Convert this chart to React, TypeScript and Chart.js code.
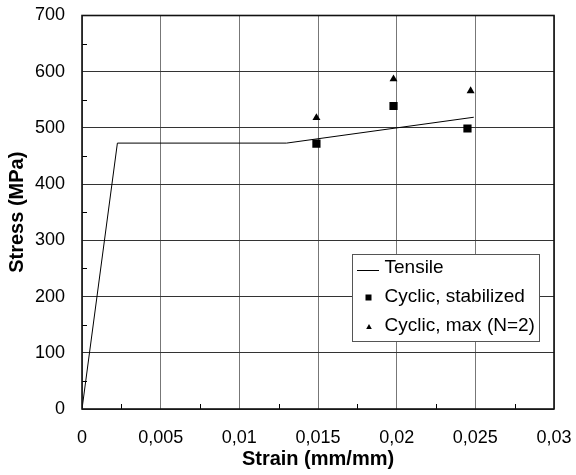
import React, { useEffect, useRef } from 'react';
import { Chart, registerables } from 'chart.js';

Chart.register(...registerables);

// ---- Data ----
const tensileStrain = [0, 0.00225, 0.013, 0.0249];
const tensileStress = [0, 473, 473, 519];
const stabilizedStrain = [0.0149, 0.0198, 0.0245];
const stabilizedStress = [472, 539, 499];
const maxStrain = [0.0149, 0.0198, 0.0247];
const maxStress = [518, 587, 566];
const seriesLabels = ['Tensile', 'Cyclic, stabilized', 'Cyclic, max (N=2)'];
const xTickLabels = ['0', '0,005', '0,01', '0,015', '0,02', '0,025', '0,03'];
const yTickLabels = ['0', '100', '200', '300', '400', '500', '600', '700'];
const xMinorTicks = [0.0025, 0.0075, 0.0125, 0.0175, 0.0225, 0.0275];
const yMinorTicks = [50, 150, 250, 350, 450, 550, 650];

const FONT = '"Liberation Sans", Arial, sans-serif';

const framePlugin = {
  id: 'frameAndLegend',
  afterDraw(chart: any) {
    const { ctx, chartArea: a, scales } = chart;
    ctx.save();
    // minor ticks
    ctx.strokeStyle = '#000';
    ctx.lineWidth = 1;
    ctx.beginPath();
    yMinorTicks.forEach((v) => {
      const y = Math.round(scales.y.getPixelForValue(v)) + 0.5;
      ctx.moveTo(a.left, y);
      ctx.lineTo(a.left + 5, y);
    });
    xMinorTicks.forEach((v) => {
      const x = Math.round(scales.x.getPixelForValue(v)) + 0.5;
      ctx.moveTo(x, a.bottom);
      ctx.lineTo(x, a.bottom - 5);
    });
    ctx.stroke();
    // frame
    ctx.lineWidth = 1.6;
    ctx.strokeStyle = '#111';
    ctx.strokeRect(a.left, a.top, a.right - a.left, a.bottom - a.top);

    // legend
    const bx = a.right - 202;
    const by = a.bottom - 155;
    const bw = 187;
    const bh = 87;
    ctx.fillStyle = '#fff';
    ctx.fillRect(bx, by, bw, bh);
    ctx.lineWidth = 1;
    ctx.strokeStyle = '#555';
    ctx.strokeRect(bx + 0.5, by + 0.5, bw, bh);

    const rows = [by + 14, by + 43, by + 72];
    const mx = bx + 16.5;
    // line sample
    ctx.strokeStyle = '#000';
    ctx.lineWidth = 1;
    ctx.beginPath();
    ctx.moveTo(bx + 5, rows[0] + 2.5);
    ctx.lineTo(bx + 27, rows[0] + 2.5);
    ctx.stroke();
    // square
    ctx.fillStyle = '#000';
    ctx.fillRect(mx - 3, rows[1] - 2.5, 6, 6);
    // triangle
    ctx.beginPath();
    ctx.moveTo(mx + 0.5, rows[2] - 2);
    ctx.lineTo(mx + 3.3, rows[2] + 3);
    ctx.lineTo(mx - 2.3, rows[2] + 3);
    ctx.closePath();
    ctx.fill();

    ctx.font = `19px ${FONT}`;
    ctx.textBaseline = 'middle';
    ctx.textAlign = 'left';
    seriesLabels.forEach((t, i) => {
      ctx.fillText(t, bx + 32.5, rows[i]);
    });
    ctx.restore();
  },
};

export default function App() {
  const ref = useRef<HTMLCanvasElement | null>(null);

  useEffect(() => {
    if (!ref.current) return;
    const chart = new Chart(ref.current, {
      type: 'scatter',
      data: {
        datasets: [
          {
            label: seriesLabels[0],
            data: tensileStrain.map((x, i) => ({ x, y: tensileStress[i] })),
            showLine: true,
            borderColor: '#000',
            borderWidth: 1,
            pointRadius: 0,
            fill: false,
          },
          {
            label: seriesLabels[1],
            data: stabilizedStrain.map((x, i) => ({ x, y: stabilizedStress[i] })),
            pointStyle: 'rect',
            pointRadius: 5.8,
            backgroundColor: '#000',
            borderWidth: 0,
          },
          {
            label: seriesLabels[2],
            data: maxStrain.map((x, i) => ({ x, y: maxStress[i] })),
            pointStyle: 'triangle',
            pointRadius: 4.6,
            backgroundColor: '#000',
            borderWidth: 0,
          },
        ],
      },
      options: {
        animation: false,
        responsive: false,
        devicePixelRatio: 1,
        layout: { padding: { top: 15.5, right: 22, bottom: 0, left: 0 } },
        plugins: {
          legend: { display: false },
          tooltip: { enabled: false },
        },
        scales: {
          x: {
            type: 'linear',
            min: 0,
            max: 0.03,
            afterFit: (s: any) => {
              s.height = 66;
              s.paddingLeft = 0;
              s.paddingRight = 0;
            },
            ticks: {
              stepSize: 0.005,
              padding: 18,
              color: '#000',
              font: { family: FONT, size: 18 },
              maxRotation: 0,
              callback: (_v: any, i: number) => xTickLabels[i] ?? '',
            },
            grid: { color: '#777', lineWidth: 1, drawTicks: false },
            border: { display: false },
            title: {
              display: true,
              text: 'Strain (mm/mm)',
              color: '#000',
              font: { family: FONT, size: 20, weight: 'bold' },
              padding: { top: 0, bottom: 4 },
            },
          },
          y: {
            type: 'linear',
            min: 0,
            max: 700,
            afterFit: (s: any) => {
              s.width = 82;
              s.paddingTop = 0;
              s.paddingBottom = 0;
            },
            ticks: {
              stepSize: 100,
              padding: 17,
              color: '#000',
              font: { family: FONT, size: 18 },
              callback: (_v: any, i: number) => yTickLabels[i] ?? '',
            },
            grid: { color: '#333', lineWidth: 1, drawTicks: false },
            border: { display: false },
            title: {
              display: true,
              text: 'Stress (MPa)',
              color: '#000',
              font: { family: FONT, size: 20, weight: 'bold' },
              padding: { top: 5.5, bottom: 0 },
            },
          },
        },
      },
      plugins: [framePlugin],
    });
    return () => chart.destroy();
  }, []);

  return (
    <div style={{ position: 'fixed', left: 0, top: 0, width: 576, height: 475, background: '#fff' }}>
      <canvas ref={ref} width={576} height={475} style={{ width: 576, height: 475 }} />
    </div>
  );
}
